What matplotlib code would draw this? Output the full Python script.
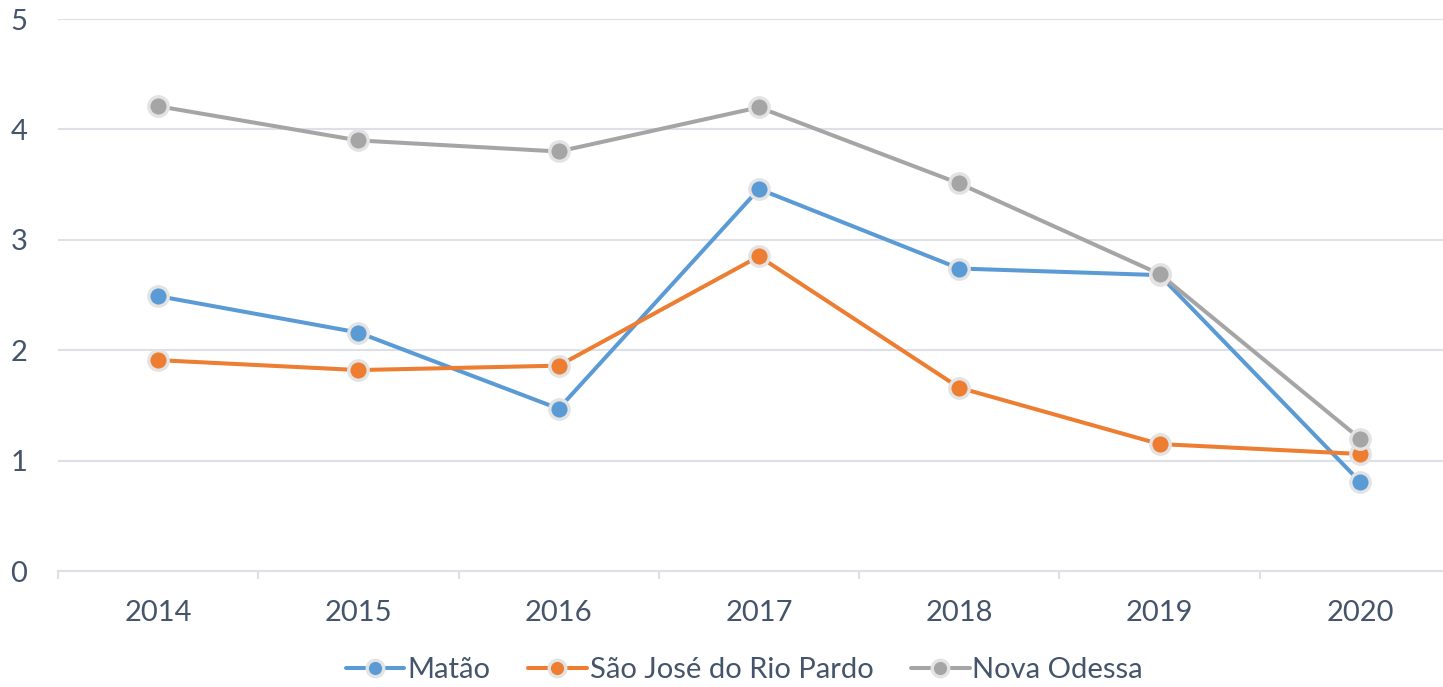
import matplotlib.pyplot as plt
import numpy as np

# dados
anos = ['2014', '2015', '2016', '2017', '2018', '2019', '2020']
matao = [2.49, 2.16, 1.47, 3.46, 2.74, 2.68, 0.81]
sao_jose = [1.91, 1.82, 1.86, 2.85, 1.66, 1.15, 1.06]
nova_odessa = [4.21, 3.90, 3.80, 4.20, 3.51, 2.69, 1.20]

series = [('Matão', matao, '#5B9BD5'),
          ('São José do Rio Pardo', sao_jose, '#ED7D31'),
          ('Nova Odessa', nova_odessa, '#A5A5A5')]

plt.rcParams['font.family'] = ['Lato', 'DejaVu Sans']
cor_texto = '#44546A'
cor_grade = '#DDE1E7'

fig = plt.figure(figsize=(14.43, 6.87), dpi=100)
ax = fig.add_axes([58 / 1443, 1 - 571 / 687, 1 - 58 / 1443, (571 - 19) / 687])

x = np.arange(len(anos))
for nome, valores, cor in series:
    ax.plot(x, valores, color=cor, lw=2.9, marker='o', ms=14,
            markerfacecolor=cor, markeredgecolor='#E3E3E3', markeredgewidth=2.4,
            label=nome, zorder=3, solid_capstyle='round')

# ticks do eixo x entre categorias
ax.set_xticks(x)
ax.set_xticklabels(anos)
ax.set_xticks(np.arange(-0.5, 7, 1), minor=True)
ax.set_yticks(range(6))
ax.set_ylim(0, 5)
ax.set_xlim(-0.5, 6.415)
ax.grid(axis='y', color=cor_grade, lw=1.5)
ax.set_axisbelow(True)

ax.tick_params(axis='x', which='major', length=0, pad=21, labelsize=21, labelcolor=cor_texto)
ax.tick_params(axis='x', which='minor', length=6, width=1.5, color=cor_grade, direction='out')
ax.tick_params(axis='y', length=0, pad=22, labelsize=21, labelcolor=cor_texto)

for s in ['top', 'right', 'left']:
    ax.spines[s].set_visible(False)
ax.spines['bottom'].set_color(cor_grade)
ax.spines['bottom'].set_linewidth(1.5)

leg = fig.legend(loc='center', bbox_to_anchor=(0.516, 1 - 670 / 687), ncol=3, frameon=False,
                 fontsize=21, handlelength=2.0, columnspacing=1.3, handletextpad=0.1,
                 markerscale=0.85, borderpad=0.2)
for t in leg.get_texts():
    t.set_color(cor_texto)

plt.savefig('out.png', dpi=100)
